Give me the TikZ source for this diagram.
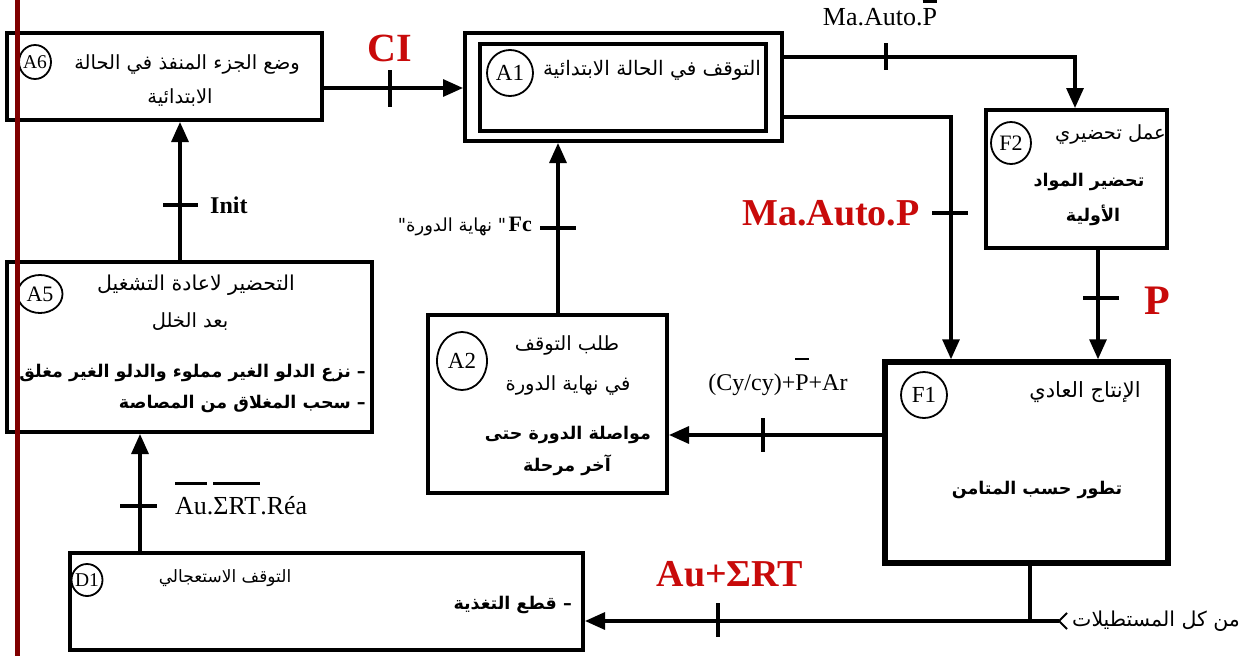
\documentclass[tikz,border=0pt]{standalone}
\usepackage{fontspec}
\setmainfont{Liberation Serif}
\newfontfamily\arabicfont[Script=Arabic]{DejaVu Sans}
\TeXXeTstate=1
\usetikzlibrary{arrows.meta,shapes.geometric}
\definecolor{tred}{RGB}{200,10,10}
\definecolor{dred}{RGB}{128,0,0}
\newcommand\ar[1]{{\arabicfont\beginR #1\endR}}
\newcommand\arb[1]{{\arabicfont\bfseries\beginR #1\endR}}
\newcommand\barover[2][12pt]{\setbox0=\hbox{#2}\rlap{\raisebox{\dimexpr\ht0+#1\relax}{\rule{\wd0}{2.5pt}}}\box0}
\tikzset{
  box/.style={draw,line width=4pt,inner sep=0pt},
  tag/.style={ellipse,draw,line width=1.8pt,inner sep=0pt},
  taglbl/.style={inner sep=0pt,font=\fontsize{22}{24}\selectfont},
  conn/.style={line width=3.2pt},
  arrow/.style={conn,-{Triangle[length=20pt,width=17pt]}},
  tick/.style={line width=3.5pt},
  lat/.style={inner sep=0pt,font=\fontsize{26}{30}\selectfont},
  big/.style={inner sep=0pt,text=tred,font=\fontsize{38}{42}\selectfont\bfseries},
  art/.style={inner sep=0pt,align=center,font=\fontsize{19.5}{22}\selectfont},
  arbt/.style={inner sep=0pt,align=center,font=\fontsize{17.5}{20}\selectfont},
}
\begin{document}
\begin{tikzpicture}[x=1pt,y=-1pt]
\useasboundingbox[fill=white] (0,0) rectangle (1242,656);

% boxes
\node[box,minimum width=315pt,minimum height=87pt] (A6) at (164.5,76.5) {};
\node[box,minimum width=317pt,minimum height=108pt] (A1) at (623.5,87) {};
\node[box,minimum width=286pt,minimum height=87pt] (A1i) at (623,87.5) {};
\node[box,minimum width=181pt,minimum height=138pt] (F2) at (1076.5,179) {};
\node[box,line width=5.5pt,minimum width=283pt,minimum height=201pt] (F1) at (1026.5,462.5) {};
\node[box,minimum width=239pt,minimum height=178pt] (A2) at (547.5,404) {};
\node[box,minimum width=365pt,minimum height=170pt] (A5) at (189.5,347) {};
\node[box,minimum width=513pt,minimum height=97pt] (D1) at (326.5,601.5) {};

% tags
\node[tag,minimum width=32pt,minimum height=34pt] (tA6) at (35,62) {};
\node[taglbl,font=\fontsize{19.5}{21}\selectfont] at (tA6) {A6};
\node[tag,minimum width=46pt,minimum height=46pt] (tA1) at (510,73) {};
\node[taglbl,font=\fontsize{23}{25}\selectfont] at (tA1) {A1};
\node[tag,minimum width=40pt,minimum height=42pt] (tF2) at (1011,143) {};
\node[taglbl] at (tF2) {F2};
\node[tag,minimum width=46pt,minimum height=46pt] (tF1) at (924,395) {};
\node[taglbl,font=\fontsize{23}{25}\selectfont] at (tF1) {F1};
\node[tag,minimum width=50pt,minimum height=58pt] (tA2) at (462,361) {};
\node[taglbl,font=\fontsize{23}{25}\selectfont] at (tA2) {A2};
\node[tag,minimum width=45pt,minimum height=38pt] (tA5) at (40,294) {};
\node[taglbl] at (tA5) {A5};
\node[tag,minimum width=31pt,minimum height=32pt] (tD1) at (87,580) {};
\node[taglbl,font=\fontsize{19.5}{21}\selectfont] at (tD1) {D1};

% box texts
\node[art] (a6a) at (187,64) {\ar{وضع الجزء المنفذ في الحالة}};
\node[art] (a6b) at (180,98) {\ar{الابتدائية}};
\node[art,font=\fontsize{20}{22}\selectfont] (a1a) at (652,70) {\ar{التوقف في الحالة الابتدائية}};
\node[art,anchor=east] (f2a) at (1166,134) {\ar{عمل تحضيري}};
\node[arbt] (f2b) at (1089,182) {\arb{تحضير المواد}};
\node[arbt] (f2c) at (1093,215) {\arb{الأولية}};
\node[art,font=\fontsize{21}{24}\selectfont] (f1a) at (1085,392) {\ar{الإنتاج العادي}};
\node[arbt] (f1b) at (1037,490) {\arb{تطور حسب المتامن}};
\node[art] (a2a) at (567,345) {\ar{طلب التوقف}};
\node[art] (a2b) at (568,385) {\ar{في نهاية الدورة}};
\node[arbt] (a2c) at (568,435) {\arb{مواصلة الدورة حتى}};
\node[arbt] (a2d) at (567,465) {\arb{آخر مرحلة}};
\node[art,font=\fontsize{20.5}{23}\selectfont] (a5a) at (196,285) {\ar{التحضير  لاعادة التشغيل}};
\node[art] (a5b) at (190,322) {\ar{بعد الخلل}};
\node[arbt,anchor=east] (a5c) at (366,373) {\arb{– نزع الدلو الغير مملوء والدلو الغير مغلق}};
\node[arbt,anchor=east] (a5d) at (366,404) {\arb{– سحب المغلاق من المصاصة}};
\node[art,font=\fontsize{17}{20}\selectfont] (d1a) at (225,578) {\ar{التوقف الاستعجالي}};
\node[arbt,anchor=east] (d1b) at (572,605) {\arb{– قطع التغذية}};

% connectors
\draw[arrow] (A6.east |- 0,88) -- (A1.west |- 0,88);
\draw[tick] (390,70) -- (390,107);
\node[big,font=\fontsize{40}{44}\selectfont\bfseries] (lCI) at (390,48) {CI};

\draw[arrow] (A1.east |- 0,57) -- (1075,57) -- (F2.north -| 1075,0);
\draw[tick] (886,43) -- (886,70);
\node[lat,anchor=base] (lMA1) at (880,25) {Ma.Auto.\barover[5pt]{P}};

\draw[arrow] (A1.east |- 0,117) -- (951,117) -- (F1.north -| 951,0);
\draw[tick] (932,213) -- (968,213);
\node[big] (lMA2) at (831,213) {Ma.Auto.P};

\draw[arrow] (F2.south -| 1098,0) -- (F1.north -| 1098,0);
\draw[tick] (1083,298) -- (1119,298);
\node[big,font=\fontsize{42}{46}\selectfont\bfseries] (lP) at (1157,301) {P};

\draw[arrow] (F1.west |- 0,435) -- (A2.east |- 0,435);
\draw[tick] (763,418) -- (763,452);
\node[lat,font=\fontsize{24}{28}\selectfont,anchor=base] (lCy) at (778,390) {(Cy/cy)+\barover[14pt]{P}+Ar};

\draw[arrow] (A2.north -| 558,0) -- (A1.south -| 558,0);
\draw[tick] (540,228) -- (576,228);
\node[inner sep=0pt,anchor=east] (lFc) at (532,226) {{\fontsize{18}{20}\selectfont\ar{" نهاية الدورة"}}\ {\fontsize{22}{24}\selectfont\bfseries Fc}};

\draw[arrow] (A5.north -| 180,0) -- (A6.south -| 180,0);
\draw[tick] (163,205) -- (198,205);
\node[inner sep=0pt,anchor=west,font=\fontsize{24}{28}\selectfont\bfseries] (lInit) at (210,205) {Init};

\draw[arrow] (D1.north -| 140,0) -- (A5.south -| 140,0);
\draw[tick] (120,506) -- (157,506);
\node[lat,anchor=base west] (lAu) at (175,514) {\barover[12pt]{Au}.\barover[12pt]{ΣRT}.Réa};

\draw[conn] (F1.south -| 1030,0) -- (1030,621);
\coordinate (src) at (1068,621);
\draw[conn,{Straight Barb[length=8pt,width=16pt,line width=2pt,reversed]}-{Triangle[length=20pt,width=17pt]}] (src) -- (D1.east |- 0,621);
\draw[tick] (718,603) -- (718,637);
\node[big] (lAu2) at (730,574) {Au+ΣRT};
\node[art,font=\fontsize{20.5}{23}\selectfont,anchor=west] (lsrc) at (1072,621) {\ar{من كل المستطيلات}};

% red margin line
\draw[dred,line width=5pt] (17,0) -- (17,656);
\end{tikzpicture}
\end{document}
